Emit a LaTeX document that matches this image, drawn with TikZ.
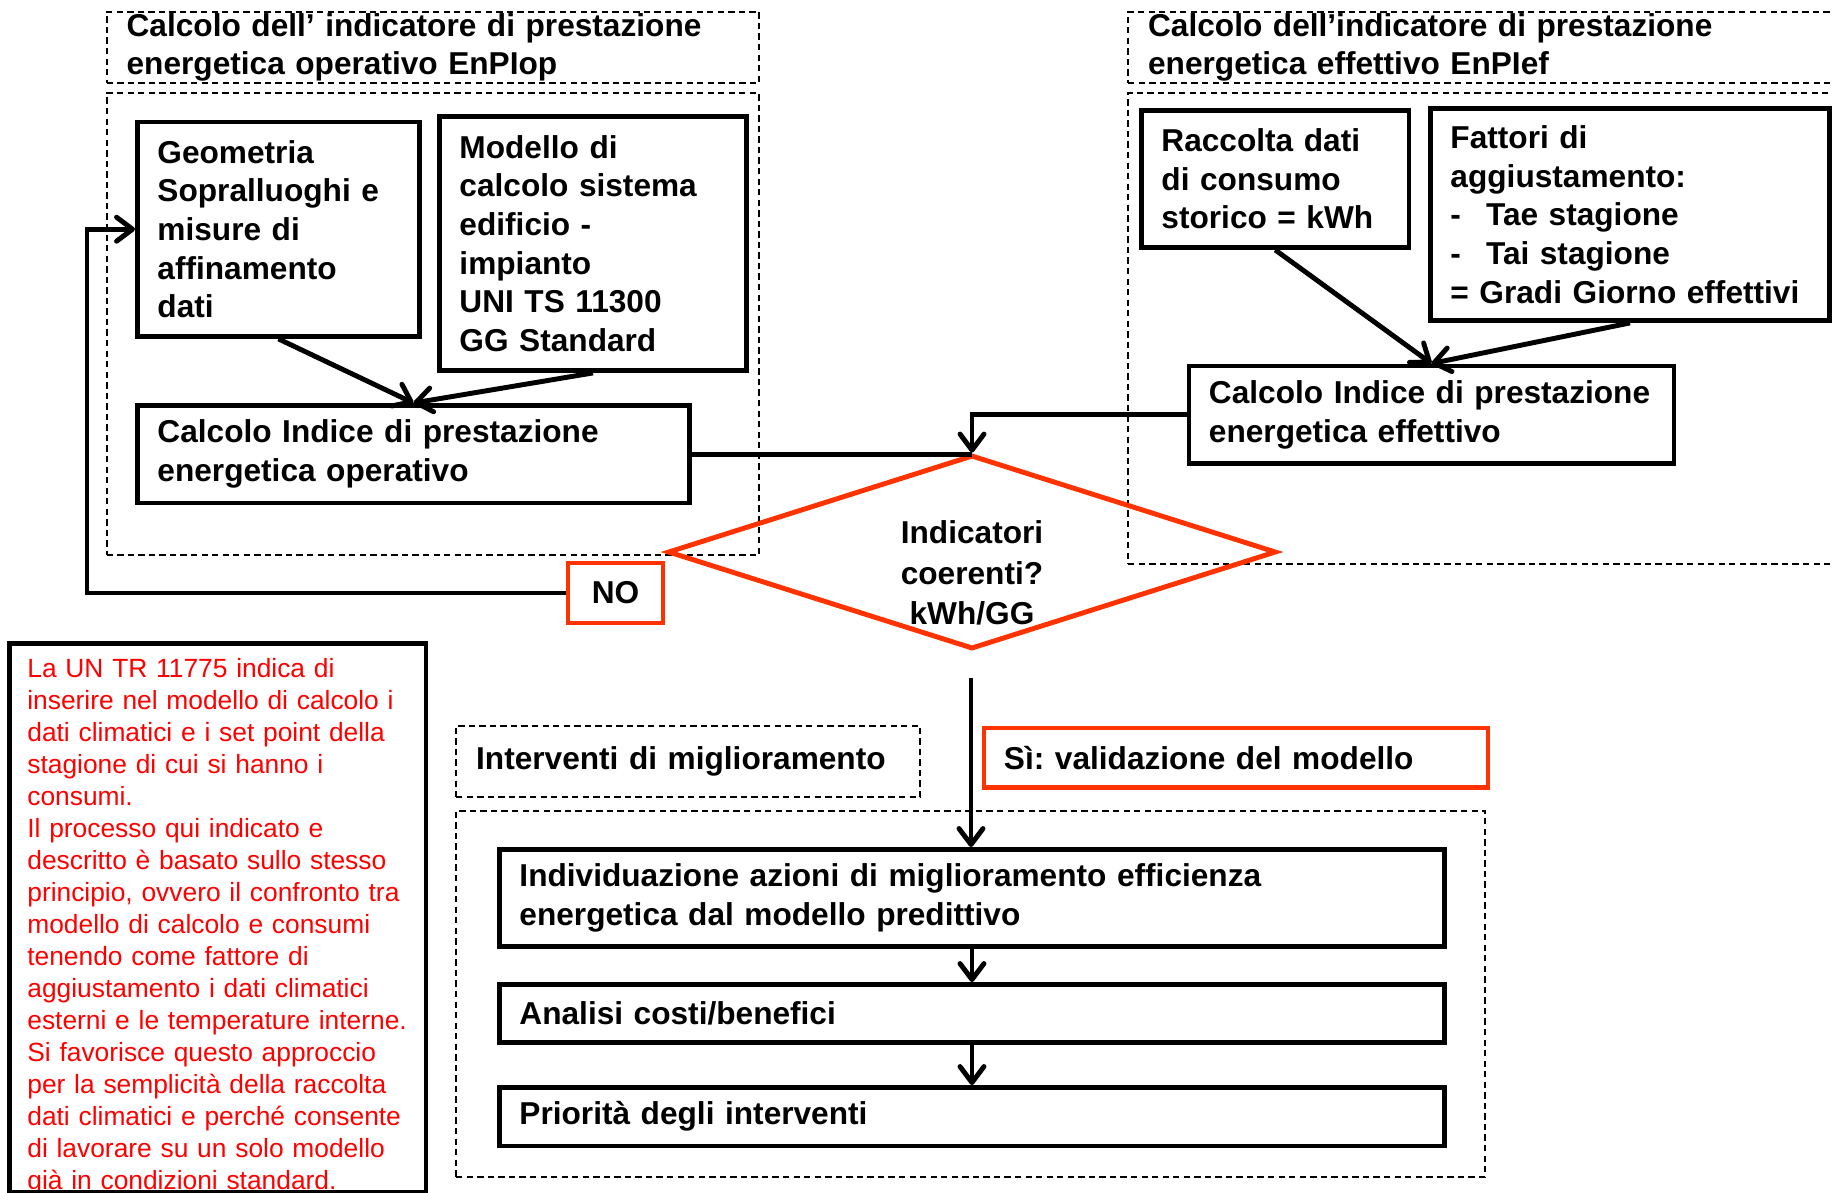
\documentclass[tikz,border=0pt]{standalone}
\usepackage{fontspec}
\setmainfont{Liberation Sans}
\usepackage{tikz}
\usetikzlibrary{arrows.meta,positioning,calc,shapes.geometric}
\definecolor{alertorange}{RGB}{255,51,0}
\definecolor{notered}{RGB}{255,0,0}

\begin{document}
\frenchspacing
\begin{tikzpicture}[
    blk/.style={draw,line width=2.8pt,inner xsep=0.4cm,inner ysep=0pt,align=left,anchor=north west,font=\fontsize{18}{22}\selectfont\bfseries},
    grp/.style={draw,line width=1.3pt,dash pattern=on 3.6pt off 2.4pt,inner xsep=0.4cm,inner ysep=0pt,align=left,anchor=north west,font=\fontsize{18}{22}\selectfont\bfseries},
    link/.style={line width=2.8pt},
    >={Straight Barb[round,length=0.32cm,width=0.48cm]}
]
\useasboundingbox (0,0) rectangle (36.64,-23.84);

\node[grp,minimum width=13.05cm,minimum height=1.43cm,text width=12.25cm] (hdop) at (2.11,-0.21) {Calcolo dell’ indicatore di prestazione\\energetica operativo EnPIop};
\node[grp,minimum width=13.05cm,minimum height=9.24cm] (grpop) at (2.11,-1.84) {};
\node[grp,minimum width=16cm,minimum height=1.43cm,text width=15.2cm] (hdef) at (22.54,-0.21) {Calcolo dell’indicatore di prestazione\\energetica effettivo EnPIef};
\node[grp,minimum width=16cm,minimum height=9.42cm] (grpef) at (22.54,-1.84) {};
\node[grp,minimum width=9.28cm,minimum height=1.43cm,text width=8.48cm] (hdint) at (9.10,-14.49) {Interventi di miglioramento};
\node[grp,minimum width=20.58cm,minimum height=7.32cm] (grpint) at (9.10,-16.19) {};

\node[blk,minimum height=4.29cm,text width=4.84cm] (geo) at (2.70,-2.39) {Geometria\\Sopralluoghi e\\misure di\\affinamento\\dati};
\node[blk,minimum height=5.08cm,text width=5.34cm] (mod) at (8.74,-2.28) {Modello di\\calcolo sistema\\edificio -\\impianto\\UNI TS 11300\\GG Standard};
\node[blk,minimum height=1.95cm,text width=10.24cm] (op) at (2.70,-8.06) {Calcolo Indice di prestazione\\energetica operativo};
\node[blk,minimum height=2.74cm,text width=4.55cm] (rac) at (22.78,-2.16) {Raccolta dati\\di consumo\\storico = kWh};
\node[blk,minimum height=4.24cm,text width=7.18cm] (fat) at (28.56,-2.12) {Fattori di\\aggiustamento:\\-\hspace{0.5cm}Tae stagione\\-\hspace{0.5cm}Tai stagione\\= Gradi Giorno effettivi};
\node[blk,minimum height=1.95cm,text width=8.9cm] (eff) at (23.73,-7.27) {Calcolo Indice di prestazione\\energetica effettivo};

\node[diamond,draw=alertorange,line width=2.8pt,minimum width=12.17cm,minimum height=3.88cm,inner sep=0pt] (chk) at (19.44,-11.04) {};
\node[font=\fontsize{18}{23}\selectfont\bfseries,align=center] (chktxt) at (19.44,-11.46) {Indicatori\\coerenti?\\kWh/GG};
\node[draw=alertorange,line width=2.8pt,minimum width=1.9cm,minimum height=1.2cm,inner sep=0pt,font=\fontsize{18}{22}\selectfont\bfseries] (no) at (12.31,-11.86) {NO};
\node[blk,draw=alertorange,minimum height=1.19cm,text width=9.28cm] (si) at (19.63,-14.51) {Sì: validazione del modello};

\node[blk,minimum height=1.94cm,text width=18.1cm] (ind) at (9.94,-16.94) {Individuazione azioni di miglioramento efficienza\\energetica dal modello predittivo};
\node[blk,minimum height=1.16cm,text width=18.1cm] (ana) at (9.94,-19.64) {Analisi costi/benefici};
\node[blk,minimum height=1.17cm,text width=18.1cm] (pri) at (9.94,-21.70) {Priorità degli interventi};

\node[anchor=north west,inner sep=0pt,text width=8cm,align=left,text=notered,font=\fontsize{15}{18.2}\selectfont] (notetxt) at (0.54,-13.16) {La UN TR 11775 indica di\\inserire nel modello di calcolo i\\dati climatici e i set point della\\stagione di cui si hanno i\\consumi.\\Il processo qui indicato e\\descritto è basato sullo stesso\\principio, ovvero il confronto tra\\modello di calcolo e consumi\\tenendo come fattore di\\aggiustamento i dati climatici\\esterni e le temperature interne.\\Si favorisce questo approccio\\per la semplicità della raccolta\\dati climatici e perché consente\\di lavorare su un solo modello\\già in condizioni standard.};
\node[draw,line width=2.8pt,anchor=north west,minimum width=8.33cm,minimum height=10.98cm,inner sep=0pt] (note) at (0.14,-12.82) {};

\draw[->,link] (geo.south) -- (op.north);
\draw[->,link] (mod.south) -- (op.north);
\draw[->,link] (rac.south) -- (eff.north);
\draw[->,link] (fat.south) -- (eff.north);
\draw[link] (op.east) -- (op.east -| chk.north);
\draw[->,link] (eff.west) -| (chk.north);
\draw[->,link] (no.west) -| ([xshift=-0.96cm]geo.west) -- (geo.west);
\coordinate (yes) at (19.42,-13.55);
\draw[->,link] (yes) -- (yes |- ind.north);
\draw[->,link] (ind.south) -- (ana.north);
\draw[->,link] (ana.south) -- (pri.north);
\end{tikzpicture}
\end{document}
